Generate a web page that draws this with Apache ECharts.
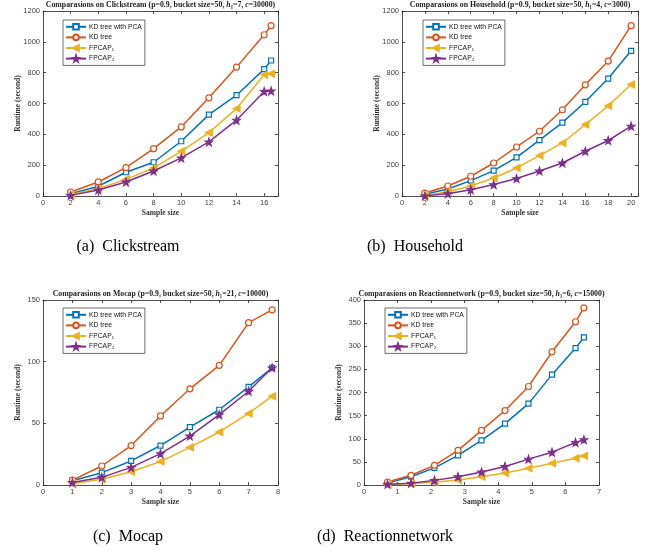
<!DOCTYPE html>
<html><head><meta charset="utf-8">
<script src="https://cdn.jsdelivr.net/npm/echarts@6/dist/echarts.min.js"></script>
<style>html,body{margin:0;padding:0;background:#fff}#c{width:652px;height:551px}</style>
</head><body><div id="c"></div>
<script>
const seriesNames = ['KD tree with PCA','KD tree','FPCAP₁','FPCAP₂'];

const xA = [2,4,6,8,10,12,14,16,16.5];
const aPCA = [15,63,154,219,355,528,654,823,879];
const aKD = [26,91,184,307,448,637,836,1046,1105];
const aF1 = [9,48,108,182,290,411,567,786,793];
const aF2 = [4,39,91,162,247,351,492,678,682];

const xB = [2,4,6,8,10,12,14,16,18,20];
const bPCA = [11,45,100,165,251,362,476,611,762,942];
const bKD = [19,65,128,214,318,420,559,721,875,1105];
const bF1 = [4,28,65,117,182,262,344,463,585,723];
const bF2 = [1,15,41,74,113,162,214,290,360,453];

const xC = [1,2,3,4,5,6,7,7.8];
const cPCA = [3.5,10,19.5,32,47,61,79.5,95];
const cKD = [4,15.4,32,56,78,97,131.6,142];
const cF1 = [1,4.6,10.8,19,30.5,43,58,72];
const cF2 = [2,6.2,14.3,25.4,39.7,57,76,95];

const xD = [0.7,1.4,2.1,2.8,3.5,4.2,4.9,5.6,6.3,6.55];
const dPCA = [4,18,37,64,96.5,132.6,176,238.6,296,319];
const dKD = [6.5,21,42.5,75,118,161,213,288,353,383];
const dF1 = [1,3,6,11,18,26,36,47,58,63];
const dF2 = [1.5,4,10,18,28,40,56,71,92,98];

const panels = [
  {x:xA, ys:[aPCA,aKD,aF1,aF2], xmax:17, xint:2, ymax:1200, yint:200,
   t:['Clickstream','7','30000'], cap:'(a)  Clickstream',
   grid:{left:43,top:11,width:235,height:185}, leg:{left:63,top:20}, capPos:[128,247]},
  {x:xB, ys:[bPCA,bKD,bF1,bF2], xmax:20.6, xint:2, ymax:1200, yint:200,
   t:['Household','4','3000'], cap:'(b)  Household',
   grid:{left:402,top:11,width:236,height:185}, leg:{left:423,top:20}, capPos:[415,247]},
  {x:xC, ys:[cPCA,cKD,cF1,cF2], xmax:8, xint:1, ymax:150, yint:50,
   t:['Mocap','21','10000'], cap:'(c)  Mocap',
   grid:{left:43,top:300,width:235,height:185}, leg:{left:63,top:308}, capPos:[128,537]},
  {x:xD, ys:[dPCA,dKD,dF1,dF2], xmax:7, xint:1, ymax:400, yint:50,
   t:['Reactionnetwork','6','15000'], cap:'(d)  Reactionnetwork',
   grid:{left:364,top:300,width:235,height:185}, leg:{left:385,top:308}, capPos:[385,537]}
];

const colors = ['#0072BD','#D95319','#EDB120','#7E2F8E'];
const star = 'path://M0,-10 L2.35,-3.24 L9.51,-3.09 L3.8,1.24 L5.88,8.09 L0,4 L-5.88,8.09 L-3.8,1.24 L-9.51,-3.09 L-2.35,-3.24 Z';
const symCfg = [
  {symbol:'rect', size:5, rot:0, fill:'#fff'},
  {symbol:'circle', size:6, rot:0, fill:'#fff'},
  {symbol:'triangle', size:7, rot:90, fill:null},
  {symbol:star, size:7.5, rot:0, fill:null}
];
const axisCol = '#262626';

const option = {backgroundColor:'#fff', animation:false, grid:[], xAxis:[], yAxis:[], series:[], legend:[], title:[], graphic:[]};

panels.forEach((p,i)=>{
  option.grid.push(Object.assign({containLabel:false}, p.grid));
  const common = {type:'value', gridIndex:i, min:0,
    axisLine:{show:true, onZero:false, lineStyle:{color:axisCol, width:0.8}},
    axisTick:{show:true, inside:true, length:3, lineStyle:{color:axisCol, width:0.8}},
    splitLine:{show:false}};
  option.xAxis.push(Object.assign({}, common, {position:'bottom', max:p.xmax, interval:p.xint,
    name:'Sample size', nameLocation:'middle', nameGap:13, nameMoveOverlap:false,
    nameTextStyle:{fontFamily:'Liberation Serif', fontWeight:'bold', fontSize:7.5, color:'#333'},
    axisLabel:{fontFamily:'Liberation Sans', fontSize:7.5, color:'#404040', margin:3,
      formatter:v=> (Math.abs(v/p.xint - Math.round(v/p.xint))<1e-9 ? String(v) : '')}}));
  option.xAxis.push(Object.assign({}, common, {position:'top', max:p.xmax, interval:p.xint, axisLabel:{show:false}}));
  option.yAxis.push(Object.assign({}, common, {position:'left', max:p.ymax, interval:p.yint,
    name:'Runtime (second)', nameLocation:'middle', nameGap:21, nameMoveOverlap:false,
    nameTextStyle:{fontFamily:'Liberation Serif', fontWeight:'bold', fontSize:7.5, color:'#333'},
    axisLabel:{fontFamily:'Liberation Sans', fontSize:7.5, color:'#404040', margin:3,
      formatter:v=>String(v)}}));
  option.yAxis.push(Object.assign({}, common, {position:'right', max:p.ymax, interval:p.yint, axisLabel:{show:false}}));
  p.ys.forEach((ys,k)=>{
    const s = symCfg[k];
    option.series.push({
      type:'line', name:seriesNames[k], xAxisIndex:2*i, yAxisIndex:2*i,
      data:p.x.map((xv,j)=>[xv, ys[j]]),
      symbol:s.symbol, symbolSize:s.size, symbolRotate:s.rot, showAllSymbol:true,
      lineStyle:{color:colors[k], width:1.5},
      itemStyle:{color:s.fill || colors[k], borderColor:colors[k], borderWidth:1.2},
      z:2+k
    });
  });
  option.legend.push({
    left:p.leg.left, top:p.leg.top, orient:'vertical', data:seriesNames,
    itemWidth:20, itemHeight:7, itemGap:3,
    padding:[3,3,3,2], borderColor:'#333', borderWidth:0.7, backgroundColor:'#fff',
    textStyle:{fontFamily:'Liberation Sans', fontSize:6.8, color:'#111', padding:[0,0,0,-2]},
    selectedMode:false
  });
  const gx = p.grid.left + p.grid.width/2;
  option.title.push({
    left:gx, top:p.grid.top-10, textAlign:'center', padding:0,
    text:'Comparasions on '+p.t[0]+' (p=0.9, bucket size=50, {i|h}₁=' + p.t[1] + ', {i|c}=' + p.t[2] + ')',
    textStyle:{fontFamily:'Liberation Serif', fontWeight:'bold', fontSize:7.8, color:'#222',
      rich:{i:{fontFamily:'Liberation Serif', fontStyle:'italic', fontSize:7.8, color:'#222'}}}
  });
  option.graphic.push({type:'text', x:p.capPos[0], y:p.capPos[1], style:{
    text:p.cap, fontFamily:'Liberation Serif', fontSize:16, fill:'#000',
    textAlign:'center', textVerticalAlign:'middle'}});
});

const chart = echarts.init(document.getElementById('c'), null, {renderer:'canvas'});
chart.setOption(option);
</script></body></html>
